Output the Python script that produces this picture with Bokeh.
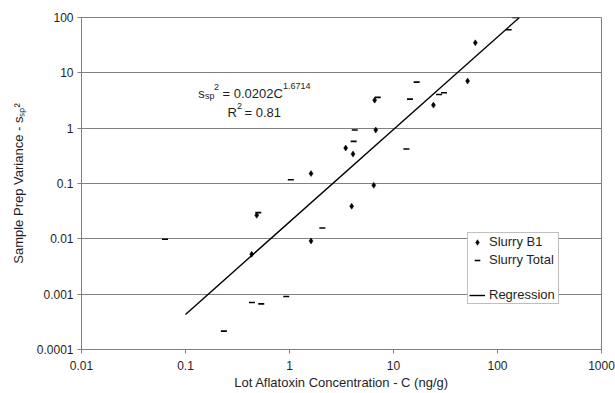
import numpy as np
from bokeh.embed import file_html
from bokeh.models import (CustomJSTickFormatter, FixedTicker, Label, Legend,
                          LegendItem, Range1d)
from bokeh.plotting import figure
from bokeh.resources import INLINE

# Slurry B1: lot concentration (ng/g) and sample-prep variance
b1_conc = [0.433, 0.484, 1.61, 1.61, 3.47, 4.08, 3.96, 6.46, 6.75, 6.59,
           24.2, 51.6, 61.2]
b1_var = [0.00527, 0.0267, 0.00916, 0.151, 0.437, 0.341, 0.0388, 0.0929,
          0.925, 3.21, 2.61, 7.09, 34.9]

# Slurry Total
total_conc = [0.0635, 0.501, 0.435, 0.535, 0.931, 0.234, 1.03, 2.07, 4.24,
              4.14, 13.3, 7.05, 16.7, 14.4, 27.4, 30.6, 128, 148]
total_var = [0.00984, 0.0298, 0.000708, 0.000668, 0.000908, 0.000215, 0.117,
             0.0157, 0.925, 0.578, 0.420, 3.60, 6.79, 3.35, 4.07, 4.37, 60,
             100]

# Power-law regression  s_sp^2 = a * C^b
reg_coef = 0.0202
reg_exp = 1.6714
reg_r2 = 0.81
reg_start = 0.1

x_ticks = [0.01, 0.1, 1, 10, 100, 1000]
y_ticks = [0.0001, 0.001, 0.01, 0.1, 1, 10, 100]

FONT = "Liberation Sans"
TEXT = "#1e1e1e"
GRAY = "#808080"

X0, X1 = x_ticks[0], x_ticks[-1]
Y0, Y1 = y_ticks[0], y_ticks[-1]

# line runs from reg_start up to where it meets the top of the axis
reg_end = (Y1 / reg_coef) ** (1 / reg_exp)
reg_x = np.array([reg_start, reg_end])
reg_y = reg_coef * reg_x ** reg_exp

LEFT, RIGHT, TOP, BOTTOM = 81, 14, 17, 44

p = figure(width=615, height=393, x_axis_type="log", y_axis_type="log",
           x_range=Range1d(X0, X1), y_range=Range1d(Y0, Y1),
           output_backend="svg", toolbar_location=None,
           min_border_left=LEFT, min_border_right=RIGHT,
           min_border_top=TOP, min_border_bottom=BOTTOM)
p.background_fill_color = "white"
p.border_fill_color = "white"
p.outline_line_color = GRAY
p.outline_line_width = 1

p.xgrid.grid_line_color = None
p.ygrid.grid_line_color = GRAY
p.ygrid.ticker = FixedTicker(ticks=y_ticks)

fmt = "return tick.toString();"
for ax, ticks in ((p.xaxis[0], x_ticks), (p.yaxis[0], y_ticks)):
    ax.ticker = FixedTicker(ticks=ticks)
    ax.formatter = CustomJSTickFormatter(code=fmt)
    ax.axis_line_color = GRAY
    ax.major_tick_line_color = GRAY
    ax.major_tick_in = 0
    ax.major_tick_out = 4
    ax.minor_tick_line_color = None
    ax.major_label_text_font = FONT
    ax.major_label_text_font_size = "12px"
    ax.major_label_text_color = TEXT
    ax.axis_label_text_font = FONT
    ax.axis_label_text_font_size = "13px"
    ax.axis_label_text_font_style = "normal"
    ax.axis_label_text_color = TEXT
p.xaxis.major_label_standoff = 7
p.yaxis.major_label_standoff = 4

p.xaxis.axis_label = "Lot Aflatoxin Concentration - C (ng/g)"
p.xaxis.axis_label_standoff = 2
p.yaxis.axis_label = "Sample Prep Variance - s\u209b\u209a\u00b2"
p.yaxis.axis_label_standoff = 8

r_b1 = p.scatter(b1_conc, b1_var, marker="diamond", size=6,
                 fill_color="black", line_color="black", line_width=0.5)
r_tot = p.scatter(total_conc, total_var, marker="dash", size=6,
                  line_color="black", line_width=1.6)
r_blank = p.scatter(x=[], y=[], size=0, alpha=0)
r_reg = p.line(reg_x, reg_y, line_color="black", line_width=1.4)

legend = Legend(
    items=[LegendItem(label="Slurry B1", renderers=[r_b1]),
           LegendItem(label="Slurry Total", renderers=[r_tot]),
           LegendItem(label=" ", renderers=[r_blank]),
           LegendItem(label="Regression", renderers=[r_reg])],
    location=(386, 45),
    label_text_font=FONT, label_text_font_size="13px",
    label_text_color=TEXT,
    glyph_width=16, glyph_height=14, label_height=14, label_width=68,
    spacing=3, padding=1, margin=0, label_standoff=4,
    border_line_color=GRAY, border_line_width=1,
    background_fill_color="white", background_fill_alpha=1.0,
)
p.add_layout(legend)


def put(text, sx, sy, size):
    """Text run inside the frame, baseline anchored at canvas pixel (sx, sy)."""
    p.add_layout(Label(
        x=X0, y=Y1, x_offset=sx - LEFT, y_offset=-(sy - TOP),
        text=text, text_font=FONT, text_font_size=f"{size}px",
        text_color=TEXT, text_align="left", text_baseline="alphabetic"))


# regression equation and R^2
put("s", 197.7, 92.5, 13)
put("sp", 204.5, 95.5, 9)
put("2", 213.5, 86.5, 9)
put(f"= {reg_coef:.4f}C", 222, 92.5, 13)
put(f"{reg_exp:.4f}", 282.5, 85, 9)
put("R", 227, 111.5, 13)
put("2", 236.5, 105.5, 9)
put(f"= {reg_r2:.2f}", 244, 111.5, 13)

open("out.html", "w").write(file_html(p, INLINE))
